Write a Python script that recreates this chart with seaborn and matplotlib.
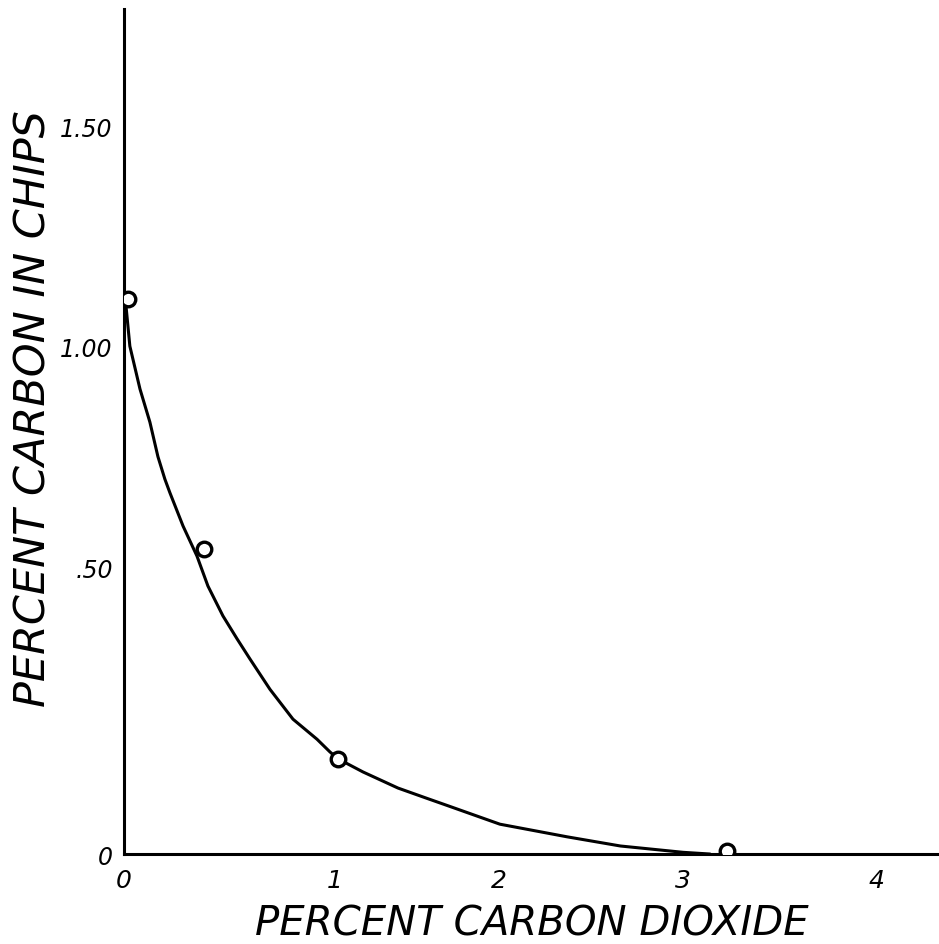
import numpy as np
import pandas as pd
import matplotlib
matplotlib.use("Agg")
import matplotlib.pyplot as plt
import seaborn as sns

# ---- data ----
co2_points = [0.02, 0.38, 1.02, 3.23]
carbon_points = [1.107, 0.541, 0.166, 0.005]

curve_co2 = [0.01, 0.028, 0.076, 0.123, 0.161, 0.194, 0.218, 0.280, 0.346, 0.398,
             0.469, 0.536, 0.597, 0.692, 0.801, 0.915, 0.976, 1.018, 1.171, 1.384,
             1.561, 1.70, 2.005, 2.37, 2.66, 3.0, 3.14]
curve_carbon = [1.09, 1.000, 0.903, 0.828, 0.750, 0.699, 0.668, 0.593, 0.525, 0.467,
                0.415, 0.375, 0.340, 0.287, 0.235, 0.200, 0.178, 0.166, 0.143, 0.115,
                0.097, 0.083, 0.052, 0.030, 0.014, 0.003, 0.0]

x_ticks = [0, 1, 2, 3, 4]
x_tick_labels = ["0", "1", "2", "3", "4"]
y_ticks = [0, 0.5, 1.0, 1.5]
y_tick_labels = ["0", ".50", "1.00", "1.50"]

x_title = "PERCENT CARBON DIOXIDE"
y_title = "PERCENT CARBON IN CHIPS"

# ---- hand-drawn (uneven) axis scales ----
X_KNOTS = [0, 1, 2, 3, 4, 5]
X_POS = [0, 211, 375, 559, 752, 945]
Y_KNOTS = [0, 0.5, 1.0, 1.5, 2.0]
Y_POS = [0, 287, 508, 728, 948]

def xf(v):
    return np.interp(v, X_KNOTS, X_POS)
def xi(p):
    return np.interp(p, X_POS, X_KNOTS)
def yf(v):
    return np.interp(v, Y_KNOTS, Y_POS)
def yi(p):
    return np.interp(p, Y_POS, Y_KNOTS)

sns.set_style("white")
plt.rcParams['font.family'] = ['DejaVu Sans']
plt.rcParams['text.color'] = 'black'
plt.rcParams['axes.labelcolor'] = 'black'

fig = plt.figure(figsize=(9.39, 9.45), dpi=100)
ax = fig.add_axes([0.132, 0.0952, 0.868, 0.894])
ax.set_xscale('function', functions=(xf, xi))
ax.set_yscale('function', functions=(yf, yi))

curve = pd.DataFrame({"co2": curve_co2, "carbon": curve_carbon})
pts = pd.DataFrame({"co2": co2_points, "carbon": carbon_points})

sns.lineplot(data=curve, x="co2", y="carbon", ax=ax, color="black",
             linewidth=2.2, sort=False, zorder=2)
sns.scatterplot(data=pts, x="co2", y="carbon", ax=ax, s=110, marker="o",
                facecolor="white", edgecolor="black", linewidth=2.4, zorder=3)

ax.set_xlim(0, 4.326)
ax.set_ylim(0, 1.766)

ax.set_xticks(x_ticks)
ax.set_xticklabels(x_tick_labels, fontsize=18, fontstyle="italic", color="black")
ax.set_yticks(y_ticks)
ax.set_yticklabels(y_tick_labels, fontsize=17, fontstyle="italic", color="black")
ax.tick_params(axis='x', direction='in', length=7, width=2, pad=10, colors='black')
ax.tick_params(axis='y', direction='in', length=8, width=2, pad=8, colors='black')

for side in ['top', 'right']:
    ax.spines[side].set_visible(False)
for side in ['left', 'bottom']:
    ax.spines[side].set_color('black')
    ax.spines[side].set_linewidth(2.2)

ax.set_xlabel(x_title, fontsize=29, fontstyle="italic", labelpad=8, color="black")
ax.set_ylabel(y_title, fontsize=31, fontstyle="italic", color="black")
ax.yaxis.set_label_coords(-0.085, 0.529)

fig.savefig("out.png", dpi=100, facecolor="white")
